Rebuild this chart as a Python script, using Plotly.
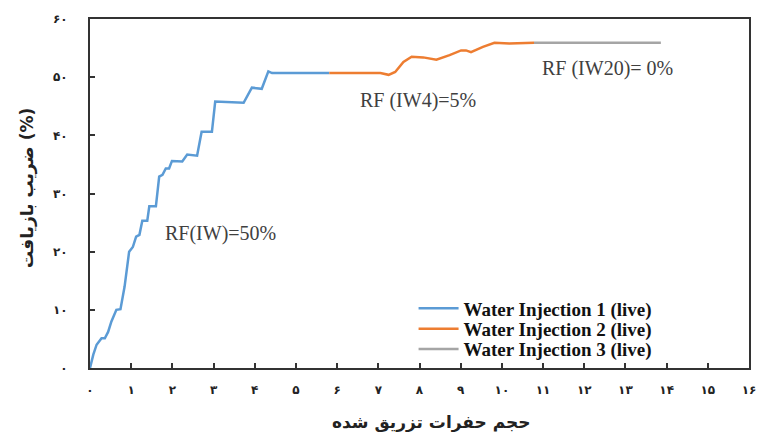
import plotly.graph_objects as go

# Series 1 (blue)
x1 = [0.0, 0.08, 0.16, 0.28, 0.36, 0.44, 0.52, 0.64, 0.74, 0.84, 0.95, 1.04, 1.12, 1.2, 1.27, 1.39,
      1.44, 1.6, 1.68, 1.76, 1.84, 1.92, 1.99, 2.24, 2.36, 2.6, 2.71, 2.96, 3.04, 3.73, 3.93, 4.17,
      4.33, 4.42, 5.81]
y1 = [0.0, 2.3, 4.0, 5.1, 5.1, 6.2, 8.0, 10.0, 10.1, 14.0, 20.0, 20.8, 22.6, 22.9, 25.3, 25.3,
      27.8, 27.8, 32.9, 33.2, 34.3, 34.3, 35.6, 35.5, 36.7, 36.5, 40.6, 40.6, 45.8, 45.6, 48.2, 48.0,
      51.0, 50.7, 50.7]
# Series 2 (orange)
x2 = [5.81, 7.05, 7.25, 7.41, 7.61, 7.81, 8.09, 8.41, 8.73, 9.01, 9.13, 9.25, 9.54, 9.82, 10.18, 10.78]
y2 = [50.7, 50.7, 50.4, 50.9, 52.6, 53.5, 53.4, 53.0, 53.8, 54.6, 54.6, 54.3, 55.2, 55.9, 55.8, 55.9]
# Series 3 (gray)
x3 = [10.78, 13.86]
y3 = [55.9, 55.9]

names = ["Water Injection 1 (live)", "Water Injection 2 (live)", "Water Injection 3 (live)"]
colors = ["#5B9BD5", "#ED7D31", "#A5A5A5"]

fa_digits = "۰۱۲۳۴۵۶۷۸۹"
def fa(n):
    return "".join(fa_digits[int(c)] for c in str(n))

x_ticks = list(range(0, 17))
y_ticks = list(range(0, 61, 10))

legend_ids = ["legend", "legend2", "legend3"]
fig = go.Figure()
for xs, ys, nm, c, lg in zip([x1, x2, x3], [y1, y2, y3], names, colors, legend_ids):
    fig.add_trace(go.Scatter(x=xs, y=ys, mode="lines", name=nm, legend=lg,
                             line=dict(color=c, width=2.5)))

tickfont = dict(family="DejaVu Sans", size=12, color="#222", weight="bold")
fig.update_xaxes(range=[0, 16], tickvals=x_ticks, ticktext=[fa(v) for v in x_ticks],
                 ticks="inside", ticklen=5, tickwidth=1.5, tickcolor="#333",
                 showline=True, linecolor="#333", linewidth=2, mirror=True,
                 showgrid=False, zeroline=False, tickfont=tickfont, ticklabelstandoff=10,
                 ticklabeloverflow="allow")
fig.update_yaxes(range=[0, 60], tickvals=y_ticks, ticktext=[fa(v) for v in y_ticks],
                 ticks="inside", ticklen=5, tickwidth=1.5, tickcolor="#333",
                 showline=True, linecolor="#333", linewidth=2, mirror=True,
                 showgrid=False, zeroline=False, tickfont=tickfont, ticklabelstandoff=18)

ann_font = dict(family="Liberation Serif", size=20, color="#404040")
fig.add_annotation(x=3.17, y=23.2, text="RF(IW)=50%", showarrow=False, font=ann_font)
fig.add_annotation(x=7.96, y=46.0, text="RF (IW4)=5%", showarrow=False, font=ann_font)
fig.add_annotation(x=12.57, y=51.5, text="RF (IW20)= 0%", showarrow=False, font=ann_font)

fig.add_annotation(xref="paper", yref="paper", x=0.518, y=-0.155, yanchor="middle",
                   text="<b>حجم حفرات تزریق شده</b>", showarrow=False,
                   font=dict(family="DejaVu Sans", size=17, color="#222"))
fig.add_annotation(xref="paper", yref="paper", x=-0.095, y=0.517, xanchor="center",
                   text="<b>ضریب بازیافت (%)</b>", textangle=-90, showarrow=False,
                   font=dict(family="DejaVu Sans", size=17, color="#222"))

leg_font = dict(family="Liberation Serif", size=19, color="#111", weight="bold")
leg_common = dict(xanchor="left", yanchor="middle", font=leg_font,
                  bgcolor="rgba(0,0,0,0)", itemwidth=40, borderwidth=0)
fig.update_layout(
    width=761, height=432,
    margin=dict(l=90, r=5, t=19, b=64),
    paper_bgcolor="white", plot_bgcolor="white",
    showlegend=True,
    legend=dict(x=0.491, y=0.171, **leg_common),
    legend2=dict(x=0.491, y=0.112, **leg_common),
    legend3=dict(x=0.491, y=0.054, **leg_common),
)

fig.write_html("out.html")
